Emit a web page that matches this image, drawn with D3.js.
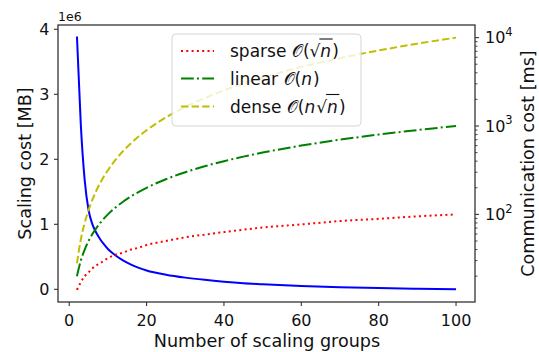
<!DOCTYPE html>
<html>
<head>
<meta charset="utf-8">
<script src="https://cdn.jsdelivr.net/npm/d3@7"></script>
<style>
  html, body { margin: 0; padding: 0; background: #fff; }
  svg { display: block; font-family: "DejaVu Sans", sans-serif; }
</style>
</head>
<body>
<div id="chart"></div>
<script>
// Values
const groups = [2, 3, 4, 5, 6, 7, 8, 9, 10, 12, 14, 16, 18, 20, 25, 30, 35, 40, 45, 50, 60, 70, 80, 90, 100];
// scaling cost, in units of 1e6 MB (left axis)
const scalingCost = [3.89, 2.53, 1.68, 1.22, 1.00, 0.87, 0.77, 0.69, 0.62, 0.52, 0.44, 0.38, 0.33, 0.29,
  0.225, 0.18, 0.146, 0.118, 0.095, 0.078, 0.051, 0.033, 0.02, 0.009, 0.002];
// communication cost in ms (right, log axis)
const sparseCost = [14, 17, 20, 22, 24.5, 26.5, 28, 30, 32, 35, 37, 40, 42, 45, 50, 55, 59, 63, 67, 71, 77, 84, 89, 95, 100];
const linearCost = [20, 30, 40, 50, 60, 70, 80, 90, 100, 120, 140, 160, 180, 200, 250, 300, 350, 400, 450, 500,
  600, 700, 800, 900, 1000];
const denseCost = [28, 52, 80, 112, 147, 185, 226, 270, 316, 416, 524, 640, 764, 894, 1250, 1643, 2070, 2530,
  3020, 3536, 4650, 5860, 7160, 8540, 10000];

const xTicks = [0, 20, 40, 60, 80, 100];
const leftTicks = [0, 1, 2, 3, 4];
const rightTicks = [100, 1000, 10000];
const rightTickExp = ["2", "3", "4"];

const W = 539, H = 352;
const plotL = 58, plotR = 475, plotT = 25, plotB = 302;

const svg = d3.select("#chart").append("svg")
  .attr("width", W)
  .attr("height", H);

const x = d3.scaleLinear().domain([-2.9, 104.9]).range([plotL, plotR]);
const yL = d3.scaleLinear().domain([-0.195, 4.066]).range([plotB, plotT]);
const yR = d3.scaleLog().domain([10.2, 13890]).range([plotB, plotT]);

const ink = "#333";

// series
const lineL = d3.line().x((d, i) => x(groups[i])).y(d => yL(d)).curve(d3.curveMonotoneX);
const lineR = d3.line().x((d, i) => x(groups[i])).y(d => yR(d)).curve(d3.curveMonotoneX);

svg.append("path").datum(scalingCost)
  .attr("fill", "none").attr("stroke", "#0000ff").attr("stroke-width", 2)
  .attr("d", lineL);

const series = [
  { vals: sparseCost, color: "#ff0000", dash: "2,3.3" },
  { vals: linearCost, color: "#008000", dash: "12.8,3.2,2,3.2" },
  { vals: denseCost, color: "#bfbf00", dash: "7.4,3.2" }
];
series.forEach(s => {
  svg.append("path").datum(s.vals)
    .attr("fill", "none").attr("stroke", s.color).attr("stroke-width", 2)
    .attr("stroke-dasharray", s.dash)
    .attr("d", lineR);
});

// frame
svg.append("rect")
  .attr("x", plotL).attr("y", plotT)
  .attr("width", plotR - plotL).attr("height", plotB - plotT)
  .attr("fill", "none").attr("stroke", ink).attr("stroke-width", 1.3);

// x ticks
xTicks.forEach(t => {
  svg.append("line")
    .attr("x1", x(t)).attr("x2", x(t)).attr("y1", plotB).attr("y2", plotB + 4)
    .attr("stroke", ink).attr("stroke-width", 1.1);
  svg.append("text")
    .attr("x", x(t)).attr("y", 326)
    .attr("text-anchor", "middle")
    .attr("font-size", "16px").attr("fill", "#111")
    .text(t);
});

// left ticks
leftTicks.forEach(t => {
  svg.append("line")
    .attr("x1", plotL - 4).attr("x2", plotL).attr("y1", yL(t)).attr("y2", yL(t))
    .attr("stroke", ink).attr("stroke-width", 1.1);
  svg.append("text")
    .attr("x", 49.5).attr("y", yL(t)).attr("dy", "0.36em")
    .attr("text-anchor", "end")
    .attr("font-size", "16px").attr("fill", "#111")
    .text(t);
});

// offset text
svg.append("text")
  .attr("x", 58).attr("y", 21)
  .attr("font-size", "12.5px").attr("fill", "#111")
  .text("1e6");

// right minor ticks
for (let dec = 10; dec <= 10000; dec *= 10) {
  for (let m = 2; m <= 9; m++) {
    const v = dec * m;
    if (v < yR.domain()[0] || v > yR.domain()[1]) continue;
    svg.append("line")
      .attr("x1", plotR).attr("x2", plotR + 2.5).attr("y1", yR(v)).attr("y2", yR(v))
      .attr("stroke", ink).attr("stroke-width", 0.9);
  }
}
// right major ticks
rightTicks.forEach((t, i) => {
  svg.append("line")
    .attr("x1", plotR).attr("x2", plotR + 4).attr("y1", yR(t)).attr("y2", yR(t))
    .attr("stroke", ink).attr("stroke-width", 1.1);
  const lab = svg.append("text")
    .attr("x", 485).attr("y", yR(t)).attr("dy", "0.36em")
    .attr("font-size", "16px").attr("fill", "#111");
  lab.append("tspan").text("10");
  lab.append("tspan").attr("font-size", "11.5px").attr("dy", "-0.65em").text(rightTickExp[i]);
});

// axis labels
svg.append("text")
  .attr("x", (plotL + plotR) / 2 + 0.5).attr("y", 346.7)
  .attr("text-anchor", "middle")
  .attr("font-size", "17.6px").attr("fill", "#111")
  .text("Number of scaling groups");

svg.append("text")
  .attr("transform", `translate(25,${(plotT + plotB) / 2}) rotate(-90)`)
  .attr("text-anchor", "middle").attr("dy", "0.36em")
  .attr("font-size", "17.6px").attr("fill", "#111")
  .text("Scaling cost [MB]");

svg.append("text")
  .attr("transform", `translate(528,${(plotT + plotB) / 2}) rotate(-90)`)
  .attr("text-anchor", "middle").attr("dy", "0.36em")
  .attr("font-size", "17.6px").attr("fill", "#111")
  .text("Communication cost [ms]");

// legend
const legend = svg.append("g");
legend.append("rect")
  .attr("x", 172).attr("y", 34).attr("width", 189).attr("height", 92).attr("rx", 4)
  .attr("fill", "#fff").attr("fill-opacity", 0.8)
  .attr("stroke", "#d6d6d6").attr("stroke-width", 1);

// label pieces: word, calligraphic O, then the argument (sqrt gets an overbar)
const legendRows = [
  [{ t: "sparse", gap: 5.5 }, { t: "𝒪" }, { t: "(" }, { t: "√" }, { t: "n", it: true, over: true }, { t: ")" }],
  [{ t: "linear", gap: 5.5 }, { t: "𝒪" }, { t: "(" }, { t: "n", it: true }, { t: ")" }],
  [{ t: "dense", gap: 5.5 }, { t: "𝒪" }, { t: "(" }, { t: "n", it: true }, { t: "√" }, { t: "n", it: true, over: true }, { t: ")" }]
];
const rowY = [51, 78.5, 106.5];

series.forEach((s, i) => {
  const cy = rowY[i];
  legend.append("line")
    .attr("x1", 181).attr("x2", 214).attr("y1", cy).attr("y2", cy)
    .attr("stroke", s.color).attr("stroke-width", 2).attr("stroke-dasharray", s.dash);
  let cx = 230;
  legendRows[i].forEach(p => {
    const el = legend.append("text")
      .attr("x", cx).attr("y", cy).attr("dy", "0.36em")
      .attr("font-size", "17px").attr("fill", "#111")
      .attr("font-style", p.it ? "italic" : "normal")
      .text(p.t);
    const w = el.node().getComputedTextLength();
    if (p.over) {
      legend.append("line")
        .attr("x1", cx - 1).attr("x2", cx + w + 1.5)
        .attr("y1", cy - 12).attr("y2", cy - 12)
        .attr("stroke", "#111").attr("stroke-width", 1.1);
    }
    cx += w + (p.it ? 1 : 0) + (p.gap || 0);
  });
});
</script>
</body>
</html>
